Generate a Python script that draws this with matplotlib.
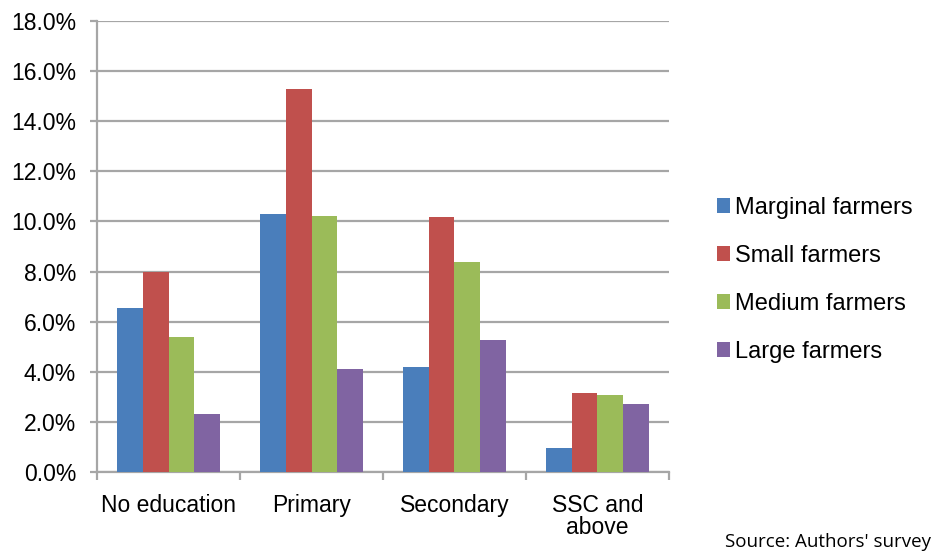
import matplotlib
matplotlib.use("Agg")
import matplotlib.pyplot as plt
import numpy as np
from matplotlib.ticker import FuncFormatter, FixedLocator
from matplotlib.patches import Patch

categories = ["No education", "Primary", "Secondary", "SSC and\nabove"]
series_names = ["Marginal farmers", "Small farmers", "Medium farmers", "Large farmers"]
marginal = [6.55, 10.28, 4.2, 0.97]
small = [7.98, 15.29, 10.17, 3.16]
medium = [5.37, 10.23, 8.38, 3.07]
large = [2.3, 4.1, 5.27, 2.71]
colors = ["#4a7ebb", "#c0504d", "#9bbb59", "#8064a2"]

plt.rcParams["font.family"] = ["Liberation Sans", "DejaVu Sans"]
label_size = 16.5
grid_grey = "#a6a6a6"

fig = plt.figure(figsize=(9.33, 5.52), dpi=100)
ax = fig.add_axes([0.104, 0.145, 0.613, 0.817])

x = np.arange(len(categories))
width = 0.18
values = [marginal, small, medium, large]
for i, (vals, c) in enumerate(zip(values, colors)):
    ax.bar(x + (i - 1.5) * width, vals, width, color=c, zorder=3, linewidth=0)

ax.set_xlim(-0.5, len(categories) - 0.5)
ax.set_ylim(0, 18)
ax.set_yticks(np.arange(0, 18.1, 2))
ax.yaxis.set_major_formatter(FuncFormatter(lambda v, p: f"{v:.1f}%"))
ax.grid(axis="y", color=grid_grey, linewidth=1.6, zorder=0)

ax.set_xticks(x)
ax.set_xticklabels(categories, fontsize=label_size, linespacing=0.95)
ax.xaxis.set_minor_locator(FixedLocator(np.arange(-0.5, len(categories), 1.0)))
ax.tick_params(axis="x", which="major", length=0, pad=16)
ax.tick_params(axis="x", which="minor", length=6, width=1.6, color=grid_grey)
ax.tick_params(axis="y", length=5, width=1.6, color=grid_grey,
               labelsize=label_size, pad=10)

for side in ["top", "right"]:
    ax.spines[side].set_visible(False)
for side in ["left", "bottom"]:
    ax.spines[side].set_color(grid_grey)
    ax.spines[side].set_linewidth(1.6)

handles = [Patch(facecolor=c, edgecolor="none") for c in colors]
fig.legend(handles, series_names, loc="center left", bbox_to_anchor=(0.769, 0.493),
           frameon=False, fontsize=17, handlelength=0.55, handleheight=0.55,
           handletextpad=0.2, labelspacing=1.1, borderpad=0, borderaxespad=0)

fig.text(0.998, 0.002, "Source: Authors' survey", ha="right", va="bottom",
         fontsize=13.5, family=["Open Sans", "DejaVu Sans"])

fig.savefig("out.png", dpi=100)
